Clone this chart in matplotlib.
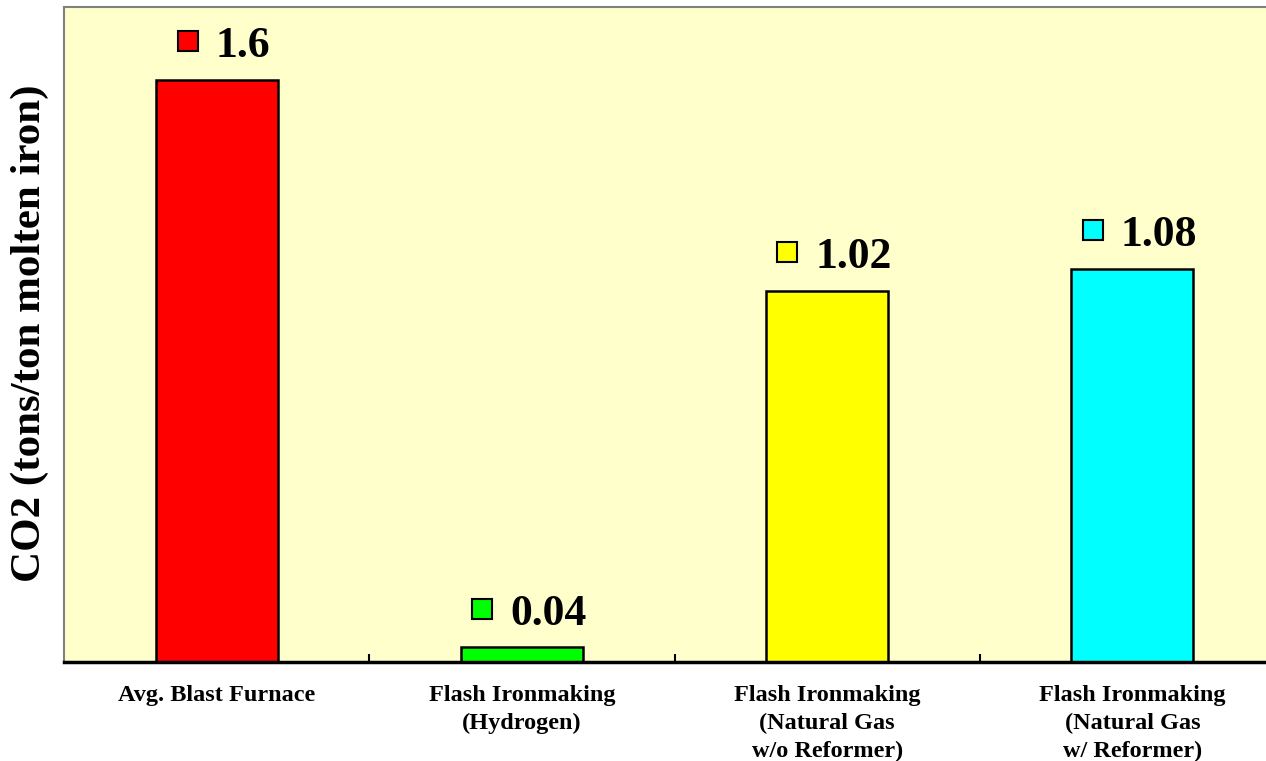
import matplotlib
matplotlib.use("Agg")
import matplotlib.pyplot as plt
from matplotlib.transforms import offset_copy

categories = ["Avg. Blast Furnace",
              "Flash Ironmaking\n(Hydrogen)",
              "Flash Ironmaking\n(Natural Gas\nw/o Reformer)",
              "Flash Ironmaking\n(Natural Gas\nw/ Reformer)"]
values = [1.6, 0.04, 1.02, 1.08]
value_labels = ["1.6", "0.04", "1.02", "1.08"]
colors = ["#FF0000", "#00FF00", "#FFFF00", "#00FFFF"]
ylabel = "CO2 (tons/ton molten iron)"

W, H = 1266, 761
fig = plt.figure(figsize=(W / 100, H / 100), dpi=100)
fig.patch.set_facecolor("white")
ax = fig.add_axes([64 / W, (H - 662) / H, (1285 - 64) / W, (662 - 7) / H])
ax.set_facecolor("#FFFFCC")

serif = ["Liberation Serif", "DejaVu Serif"]

x = list(range(len(values)))
ax.bar(x, values, width=0.4, color=colors, edgecolor="black", linewidth=1.8, zorder=3)
ax.set_xlim(-0.5, len(values) - 0.5)
ax.set_ylim(0, 1.8)

ax.set_yticks([])
ax.set_xticks([0.5, 1.5, 2.5])
ax.set_xticklabels([])
ax.set_xticks(x, minor=True)
ax.set_xticklabels(categories, minor=True, fontfamily=serif, fontweight="bold", fontsize=17.5,
                   linespacing=1.42)
ax.tick_params(axis="x", which="major", direction="in", length=6, width=1.5, color="black")
ax.tick_params(axis="x", which="minor", length=0, pad=16.5)

for side in ["top", "left", "right"]:
    ax.spines[side].set_color("#808080")
    ax.spines[side].set_linewidth(1.5)
ax.spines["bottom"].set_color("black")
ax.spines["bottom"].set_linewidth(2.5)
ax.spines["bottom"].set_zorder(4)

fig.text(30 / W, 1 - 333 / H, ylabel, rotation=90, ha="center", va="center",
         fontfamily=serif, fontweight="bold", fontsize=31)

fig.canvas.draw()
renderer = fig.canvas.get_renderer()
px = 72 / 100
for i, (v, lbl, c) in enumerate(zip(values, value_labels, colors)):
    t = ax.annotate(lbl, xy=(i, v), xytext=(0, 22.5 * px), textcoords="offset points",
                    ha="left", va="baseline", fontfamily=serif, fontweight="bold",
                    fontsize=31.5, zorder=5, annotation_clip=False)
    w = t.get_window_extent(renderer).width
    sq, gap = 22, 17
    G = sq + gap + w
    left = 7 - G / 2
    t.set_position(((left + sq + gap) * px, 22.5 * px))
    tr = offset_copy(ax.transData, fig=fig, x=left + sq / 2, y=38.5, units="dots")
    ax.plot([i], [v], marker="s", markersize=sq * px * 0.95, markerfacecolor=c,
            markeredgecolor="black", markeredgewidth=1.5, transform=tr, clip_on=False, zorder=5)

fig.savefig("out.png", dpi=100)
